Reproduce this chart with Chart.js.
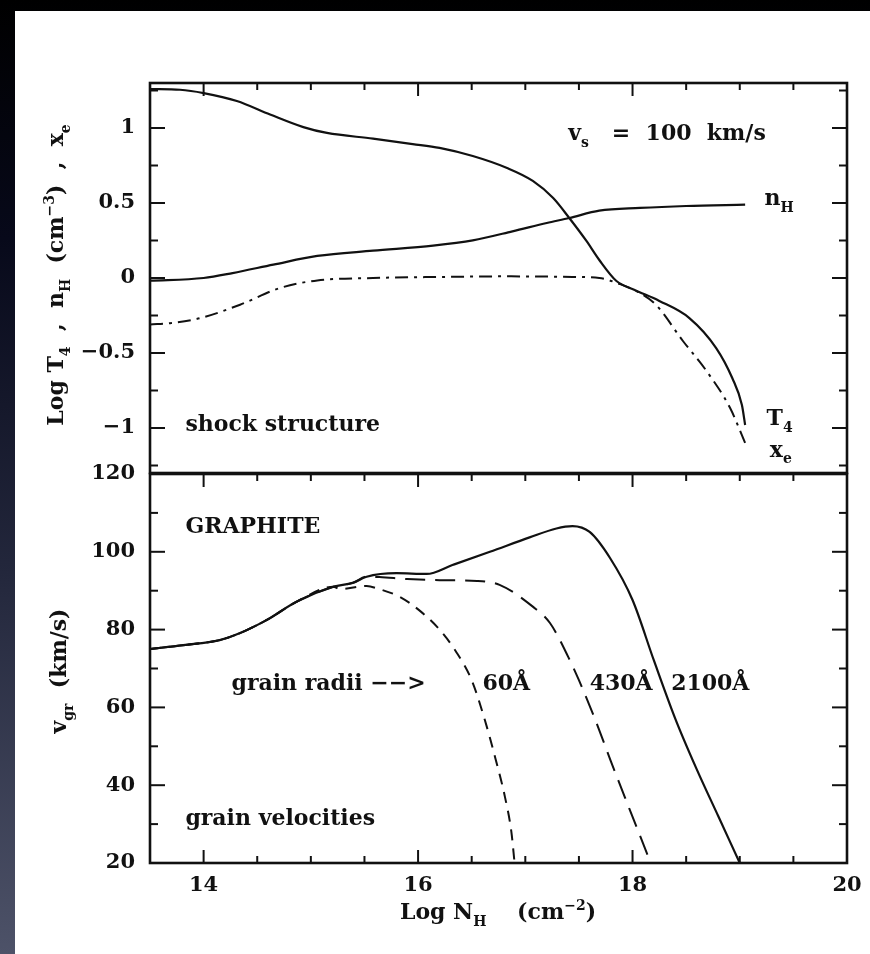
<!DOCTYPE html>
<html lang="en">
<head>
<meta charset="UTF-8">
<title>Shock structure and grain velocities</title>
<script src="https://cdn.jsdelivr.net/npm/chart.js"></script>
<style>
  body { margin: 0; width: 870px; height: 954px; position: relative; overflow: hidden;
         background: linear-gradient(to bottom, #000 0%, #07091a 25%, #23273c 60%, #4d5268 100%); }
  #paper { position: absolute; left: 15px; top: 11px; right: 0; bottom: 0; background: #fff; }
  canvas { position: absolute; left: 0; }
  #topChart { top: 0; }
  #botChart { top: 440px; }
</style>
</head>
<body>
<div id="paper"></div>
<canvas id="topChart" width="870" height="480"></canvas>
<canvas id="botChart" width="870" height="514"></canvas>

<script>
// ---- top panel: shock structure (Log N_H vs log values) ----
const t4X = [13.5, 13.78, 14.0, 14.31, 14.62, 14.93, 15.15, 15.58, 15.95, 16.2, 16.51, 16.83, 17.07, 17.26, 17.41, 17.57, 17.69, 17.85, 18.02, 18.25, 18.53, 18.78, 18.93, 19.02, 19.05];
const t4Y = [1.26, 1.255, 1.233, 1.18, 1.09, 1.006, 0.967, 0.929, 0.893, 0.867, 0.813, 0.733, 0.647, 0.533, 0.40, 0.247, 0.12, -0.02, -0.08, -0.153, -0.267, -0.467, -0.667, -0.847, -0.98];

const nhX = [13.5, 14.0, 14.27, 14.65, 15.06, 15.58, 16.14, 16.51, 16.88, 17.2, 17.41, 17.69, 18.07, 18.5, 19.05];
const nhY = [-0.018, 0.0, 0.033, 0.089, 0.147, 0.182, 0.216, 0.251, 0.311, 0.367, 0.40, 0.449, 0.467, 0.48, 0.489];

const xeX = [13.5, 13.7, 13.97, 14.34, 14.71, 15.06, 15.58, 16.2, 16.83, 17.44, 17.69, 17.88, 18.07, 18.22, 18.47, 18.69, 18.91, 19.05];
const xeY = [-0.31, -0.30, -0.267, -0.178, -0.067, -0.016, 0.0, 0.007, 0.011, 0.007, 0.0, -0.04, -0.10, -0.18, -0.42, -0.62, -0.867, -1.1];

// ---- bottom panel: grain velocities (km/s) ----
const v2100X = [13.5, 13.81, 14.15, 14.34, 14.59, 14.87, 15.21, 15.39, 15.52, 15.8, 16.08, 16.32, 16.67, 17.04, 17.29, 17.44, 17.6, 17.79, 18.0, 18.2, 18.4, 18.6, 18.8, 19.0];
const v2100Y = [75, 76, 77.3, 79.1, 82.5, 87.2, 91.0, 92.0, 93.6, 94.5, 94.3, 96.6, 100, 103.7, 106, 106.6, 105.1, 98.4, 87.6, 72, 57, 44, 32, 20];

const v430X = [13.5, 13.81, 14.15, 14.34, 14.59, 14.87, 15.21, 15.39, 15.52, 15.64, 15.9, 16.2, 16.55, 16.76, 17.07, 17.23, 17.4, 17.5, 17.65, 17.8, 17.97, 18.17];
const v430Y = [75, 76, 77.3, 79.1, 82.5, 87.2, 91.0, 92.0, 93.6, 93.5, 93.0, 92.7, 92.5, 91.5, 85.9, 81.7, 73, 67, 57, 46, 34, 20];

const v60X = [13.5, 13.81, 14.15, 14.34, 14.59, 14.87, 15.21, 15.27, 15.52, 15.64, 15.83, 16.04, 16.2, 16.35, 16.5, 16.62, 16.72, 16.81, 16.87, 16.9];
const v60Y = [75, 76, 77.3, 79.1, 82.5, 87.2, 91.0, 90.4, 91.2, 90.4, 88.4, 84.3, 80, 74.5, 67, 57, 47, 37, 28, 20];

// ---- ticks ----
const xMajor = [14, 16, 18, 20];
const xMinor = [14.5, 15, 15.5, 16.5, 17, 17.5, 18.5, 19, 19.5];
const yTopMajor = [-1, -0.5, 0, 0.5, 1];
const yTopMinor = [-1.25, -0.75, -0.25, 0.25, 0.75, 1.25];
const yBotMajor = [40, 60, 80, 100];
const yBotMinor = [30, 50, 70, 90, 110];

const INK = '#111';
const FONT = '"DejaVu Serif", "Liberation Serif", serif';

function pts(xs, ys) { return xs.map((x, i) => ({x: x, y: ys[i]})); }

function line(data, dash, width) {
    return {
        data: data,
        showLine: true,
        borderColor: INK,
        borderWidth: width || 2.2,
        borderDash: dash || [],
        pointRadius: 0,
        cubicInterpolationMode: 'monotone'
    };
}

// text with sub/superscripts: parts = [[text, 'sub'|'sup'|''], ...]
function drawRich(ctx, parts, x, y, size, align) {
    const fontFor = k => 'bold ' + (k ? Math.round(size * 0.62) : size) + 'px ' + FONT;
    let w = 0;
    parts.forEach(([t, k]) => { ctx.font = fontFor(k); w += ctx.measureText(t).width; });
    let cx = align === 'center' ? x - w / 2 : x;
    ctx.textAlign = 'left';
    ctx.textBaseline = 'alphabetic';
    parts.forEach(([t, k]) => {
        ctx.font = fontFor(k);
        const dy = k === 'sub' ? size * 0.3 : k === 'sup' ? -size * 0.42 : 0;
        ctx.fillText(t, cx, y + dy);
        cx += ctx.measureText(t).width;
    });
}

const framePlugin = {
    id: 'frame',
    afterDraw(chart, args, opts) {
        const ctx = chart.ctx, a = chart.chartArea;
        const xs = chart.scales.x, ys = chart.scales.y;
        ctx.save();
        ctx.strokeStyle = INK;
        ctx.lineWidth = 2;
        const tick = (x1, y1, x2, y2) => { ctx.beginPath(); ctx.moveTo(x1, y1); ctx.lineTo(x2, y2); ctx.stroke(); };
        // y ticks, left and right, pointing inward
        [[opts.yMajor, 15], [opts.yMinor, 8]].forEach(([vals, len]) => {
            vals.forEach(v => {
                const py = ys.getPixelForValue(v);
                tick(a.left, py, a.left + len, py);
                tick(a.right, py, a.right - len, py);
            });
        });
        // x ticks on top / bottom
        [[xMajor, 13], [xMinor, 7]].forEach(([vals, len]) => {
            vals.forEach(v => {
                const px = xs.getPixelForValue(v);
                if (opts.topTicks) tick(px, a.top, px, a.top + len);
                if (opts.bottomTicks) tick(px, a.bottom, px, a.bottom - len);
            });
        });
        ctx.lineWidth = 2.6;
        ctx.strokeRect(a.left, a.top, a.right - a.left, a.bottom - a.top);

        // annotations placed in data coordinates
        ctx.fillStyle = INK;
        opts.notes.forEach(n => {
            drawRich(ctx, n.parts, xs.getPixelForValue(n.at[0]), ys.getPixelForValue(n.at[1]), n.size || 22, 'left');
        });
        // axis titles
        opts.titles.forEach(t => {
            ctx.save();
            ctx.translate(t.x, t.y);
            if (t.rotate) ctx.rotate(-Math.PI / 2);
            drawRich(ctx, t.parts, 0, 0, t.size || 22, 'center');
            ctx.restore();
        });
        ctx.restore();
    }
};

function tickFmt(v) {
    return (v < 0 ? '\u2212' : '') + Math.abs(v);
}

// keep the chart area where the frame sits: no extra room for end labels
function fixY(s) { s.width = 150; s.paddingTop = 0; s.paddingBottom = 0; }

const yTickFont = {family: FONT, size: 21, weight: 'bold'};

// ---- top chart ----
new Chart(document.getElementById('topChart'), {
    type: 'scatter',
    data: {
        datasets: [
            line(pts(t4X, t4Y)),
            line(pts(nhX, nhY)),
            line(pts(xeX, xeY), [13, 6, 3, 6], 2)
        ]
    },
    options: {
        responsive: false,
        animation: false,
        layout: {padding: {left: 0, top: 83, right: 23, bottom: 7}},
        scales: {
            x: {type: 'linear', min: 13.5, max: 20, display: false},
            y: {
                min: -1.3, max: 1.3,
                grid: {display: false, drawTicks: false},
                border: {display: false},
                ticks: {stepSize: 0.5, includeBounds: false, color: INK, font: yTickFont, padding: 15, callback: tickFmt},
                afterFit: fixY
            }
        },
        plugins: {
            legend: {display: false},
            tooltip: {enabled: false},
            frame: {
                yMajor: yTopMajor, yMinor: yTopMinor, topTicks: true, bottomTicks: false,
                notes: [
                    {at: [13.83, -1.02], parts: [['shock structure', '']]},
                    {at: [17.4, 0.92], parts: [['v', ''], ['s', 'sub'], ['   =  100  km/s', '']]},
                    {at: [19.23, 0.487], parts: [['n', ''], ['H', 'sub']]},
                    {at: [19.25, -0.98], parts: [['T', ''], ['4', 'sub']]},
                    {at: [19.28, -1.19], parts: [['x', ''], ['e', 'sub']]}
                ],
                titles: [
                    {x: 63, y: 275, rotate: true, size: 22,
                     parts: [['Log T', ''], ['4', 'sub'], ['  ,  n', ''], ['H', 'sub'], ['  (cm', ''], ['\u22123', 'sup'], [')  ,  x', ''], ['e', 'sub']]}
                ]
            }
        }
    },
    plugins: [framePlugin]
});

// ---- bottom chart ----
new Chart(document.getElementById('botChart'), {
    type: 'scatter',
    data: {
        datasets: [
            line(pts(v2100X, v2100Y)),
            line(pts(v430X, v430Y), [20, 10], 2),
            line(pts(v60X, v60Y), [11, 8], 2)
        ]
    },
    options: {
        responsive: false,
        animation: false,
        layout: {padding: {left: 0, top: 34, right: 23, bottom: 0}},
        scales: {
            x: {
                type: 'linear', min: 13.5, max: 20,
                grid: {display: false, drawTicks: false},
                border: {display: false},
                ticks: {stepSize: 2, includeBounds: false, color: INK, font: yTickFont, padding: 10},
                afterFit: s => { s.height = 91; s.paddingLeft = 0; s.paddingRight = 0; }
            },
            y: {
                min: 20, max: 120,
                grid: {display: false, drawTicks: false},
                border: {display: false},
                ticks: {stepSize: 20, color: INK, font: yTickFont, padding: 15},
                afterFit: fixY
            }
        },
        plugins: {
            legend: {display: false},
            tooltip: {enabled: false},
            frame: {
                yMajor: yBotMajor, yMinor: yBotMinor, topTicks: true, bottomTicks: true,
                notes: [
                    {at: [13.83, 104.8], parts: [['GRAPHITE', '']]},
                    {at: [14.26, 64.5], parts: [['grain radii \u2212\u2212>', '']]},
                    {at: [16.6, 64.5], parts: [['60\u00c5', '']]},
                    {at: [17.6, 64.5], parts: [['430\u00c5', '']]},
                    {at: [18.36, 64.5], parts: [['2100\u00c5', '']]},
                    {at: [13.83, 29.8], parts: [['grain velocities', '']]}
                ],
                titles: [
                    {x: 66, y: 231, rotate: true, size: 22,
                     parts: [['v', ''], ['gr', 'sub'], ['  (km/s)', '']]},
                    {x: 498, y: 479, rotate: false, size: 22,
                     parts: [['Log N', ''], ['H', 'sub'], ['    (cm', ''], ['\u22122', 'sup'], [')', '']]}
                ]
            }
        }
    },
    plugins: [framePlugin]
});
</script>
</body>
</html>
